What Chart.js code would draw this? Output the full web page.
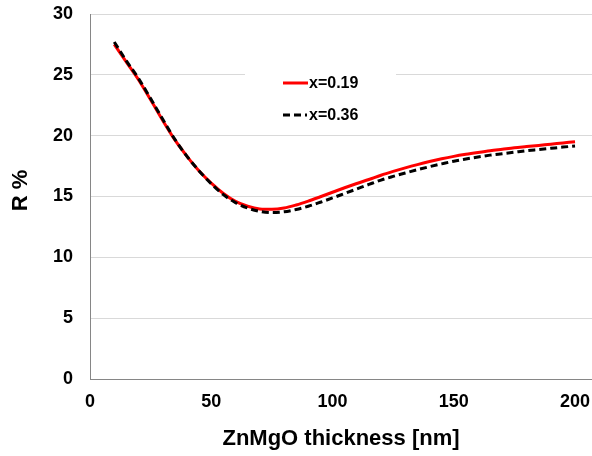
<!DOCTYPE html>
<html>
<head>
<meta charset="utf-8">
<script src="https://cdn.jsdelivr.net/npm/chart.js@4/dist/chart.umd.min.js"></script>
<style>
  html, body { margin: 0; padding: 0; background: #fff; }
  canvas { display: block; }
</style>
</head>
<body>
<canvas id="chart" width="592" height="456"></canvas>
<script>
// Reflectance vs ZnMgO layer thickness, two Mg contents.

const thickness = [10, 15, 20, 25, 30, 35, 40, 45, 50, 55, 60, 65, 70, 75, 80, 85, 90, 95, 100,
  105, 110, 115, 120, 125, 130, 135, 140, 145, 150, 155, 160, 165, 170, 175, 180, 185, 190, 195, 200];

const r019 = [27.5, 26.05, 24.6, 22.95, 21.25, 19.65, 18.3, 17.1, 16.1, 15.25, 14.6, 14.2, 13.98, 13.95,
  14.05, 14.3, 14.62, 14.98, 15.35, 15.72, 16.07, 16.4, 16.75, 17.06, 17.35, 17.62, 17.87, 18.1, 18.3,
  18.47, 18.62, 18.76, 18.88, 19.0, 19.1, 19.2, 19.3, 19.4, 19.5];

const r036 = [27.7, 26.15, 24.7, 23.05, 21.35, 19.7, 18.3, 17.1, 16.05, 15.15, 14.5, 14.05, 13.78, 13.68,
  13.74, 13.93, 14.2, 14.53, 14.88, 15.25, 15.62, 15.99, 16.35, 16.65, 16.93, 17.2, 17.45, 17.68, 17.9,
  18.08, 18.25, 18.4, 18.52, 18.64, 18.76, 18.86, 18.96, 19.06, 19.15];

const seriesLabels = ["x=0.19", "x=0.36"];
const xTicks = [0, 50, 100, 150, 200];
const yTicks = [0, 5, 10, 15, 20, 25, 30];

const FONT = "Arial, 'Liberation Sans', sans-serif";

const toPoints = (ys) => ys.map((y, i) => ({ x: thickness[i], y }));

// legend box sitting inside the plot
const insideLegend = {
  id: "insideLegend",
  afterDatasetsDraw(chart) {
    const ctx = chart.ctx;
    ctx.save();
    ctx.fillStyle = "#fff";
    ctx.fillRect(245, 66, 151, 64);

    const rows = [
      { ds: chart.data.datasets[1], y: 83 },
      { ds: chart.data.datasets[0], y: 115 },
    ];
    ctx.font = "bold 16px " + FONT;
    ctx.textBaseline = "middle";
    ctx.textAlign = "left";
    rows.forEach(({ ds, y }) => {
      ctx.beginPath();
      ctx.setLineDash(ds.borderDash || []);
      ctx.lineWidth = ds.borderWidth;
      ctx.strokeStyle = ds.borderColor;
      ctx.moveTo(283, y);
      ctx.lineTo(ds.borderDash ? 307 : 308, y);
      ctx.stroke();
      ctx.setLineDash([]);
      ctx.fillStyle = "#000";
      ctx.fillText(ds.label, 309, y + 1);
    });
    ctx.restore();
  }
};

new Chart(document.getElementById("chart"), {
  type: "line",
  data: {
    datasets: [
      {
        label: seriesLabels[1],
        data: toPoints(r036),
        borderColor: "#000",
        borderWidth: 3,
        borderDash: [7, 4],
        pointRadius: 0,
        cubicInterpolationMode: "monotone",
        order: 0
      },
      {
        label: seriesLabels[0],
        data: toPoints(r019),
        borderColor: "#ff0000",
        borderWidth: 3,
        pointRadius: 0,
        cubicInterpolationMode: "monotone",
        order: 1
      }
    ]
  },
  options: {
    responsive: false,
    animation: false,
    events: [],
    layout: { padding: { top: 14, right: 0, bottom: 0, left: 0 } },
    plugins: {
      legend: { display: false },
      tooltip: { enabled: false }
    },
    scales: {
      x: {
        type: "linear",
        min: 0,
        max: 207,
        afterBuildTicks: (scale) => { scale.ticks = xTicks.map((v) => ({ value: v })); },
        afterFit: (scale) => {
          scale.height = 77;
          scale.paddingLeft = 0;
          scale.paddingRight = 0;
        },
        grid: { display: false, drawTicks: false },
        border: { display: true, color: "#868686", width: 1 },
        ticks: {
          padding: 12,
          color: "#000",
          maxRotation: 0,
          font: { family: FONT, size: 18, weight: "bold" }
        },
        title: {
          display: true,
          text: "ZnMgO thickness [nm]",
          color: "#000",
          padding: { top: 4, bottom: 4 },
          font: { family: FONT, size: 22, weight: "bold" }
        }
      },
      y: {
        min: 0,
        max: 30,
        afterBuildTicks: (scale) => { scale.ticks = yTicks.map((v) => ({ value: v })); },
        afterFit: (scale) => {
          scale.width = 90;
          scale.paddingTop = 0;
          scale.paddingBottom = 0;
        },
        grid: { color: "#d9d9d9", lineWidth: 1, drawTicks: false },
        border: { display: true, color: "#868686", width: 1 },
        ticks: {
          padding: 17,
          color: "#000",
          font: { family: FONT, size: 18, weight: "bold" }
        },
        title: {
          display: true,
          text: "\u00a0\u00a0R %",
          color: "#000",
          padding: { top: 8, bottom: 4 },
          font: { family: FONT, size: 22, weight: "bold" }
        }
      }
    }
  },
  plugins: [insideLegend]
});
</script>
</body>
</html>
